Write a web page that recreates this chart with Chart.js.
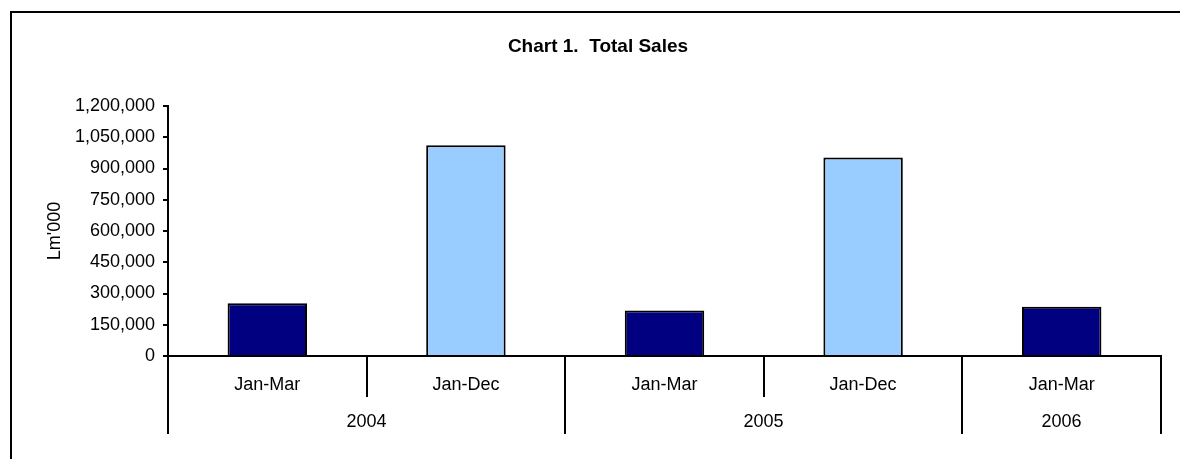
<!DOCTYPE html>
<html>
<head>
<meta charset="utf-8">
<script src="https://cdn.jsdelivr.net/npm/chart.js@4.4.1/dist/chart.umd.min.js"></script>
<style>
  html, body { margin: 0; padding: 0; background: #fff; overflow: hidden; }
  #wrap { position: relative; width: 1180px; height: 459px; overflow: hidden; }
  #frame { position: absolute; left: 10px; top: 11px; width: 1400px; height: 700px;
           border-left: 2px solid #000; border-top: 2px solid #000; }
  canvas { position: absolute; left: 0; top: 0; }
</style>
</head>
<body>
<div id="wrap">
  <div id="frame"></div>
  <canvas id="c" width="1180" height="459"></canvas>
</div>
<script>
// ---- data ----
const periods = ['Jan-Mar', 'Jan-Dec', 'Jan-Mar', 'Jan-Dec', 'Jan-Mar'];
const years   = ['2004', '2004', '2005', '2005', '2006'];
const sales   = [253000, 1012000, 218000, 953000, 237000];
const yTicks  = [0, 150000, 300000, 450000, 600000, 750000, 900000, 1050000, 1200000];
const titleText = 'Chart 1.  Total Sales';
const yTitle = "Lm'000";

// ---- styles ----
const periodColors = { 'Jan-Mar': '#000080', 'Jan-Dec': '#99CCFF' };
const FONT = '"Liberation Sans", Arial, sans-serif';

const groupLabels = {
  id: 'groupLabels',
  afterDraw(chart) {
    const { ctx, chartArea, scales: { x } } = chart;
    const n = periods.length;
    const bottom = chartArea.bottom;
    ctx.save();
    ctx.fillStyle = '#000';
    ctx.strokeStyle = '#000';
    ctx.lineWidth = 2;
    ctx.font = '18px ' + FONT;
    ctx.textAlign = 'center';
    ctx.textBaseline = 'middle';
    // period labels
    for (let i = 0; i < n; i++) {
      ctx.fillText(periods[i], x.getPixelForValue(i), bottom + 29);
    }
    // dividers
    const bounds = [];
    for (let i = 0; i <= n; i++) {
      const bx = Math.round(x.getPixelForValue(i - 0.5));
      const isGroup = i === 0 || i === n || years[i] !== years[i - 1];
      if (isGroup) bounds.push(bx);
      ctx.beginPath();
      ctx.moveTo(bx, bottom);
      ctx.lineTo(bx, bottom + (isGroup ? 78 : 41));
      ctx.stroke();
    }
    // year labels
    const groups = [];
    for (let i = 0; i < n; i++) {
      if (i === 0 || years[i] !== years[i - 1]) groups.push(years[i]);
    }
    for (let g = 0; g < groups.length; g++) {
      ctx.fillText(groups[g], (bounds[g] + bounds[g + 1]) / 2, bottom + 66);
    }
    ctx.restore();
  }
};

new Chart(document.getElementById('c'), {
  type: 'bar',
  data: {
    labels: periods.map((p, i) => p + ' ' + years[i]),
    datasets: [{
      data: sales,
      backgroundColor: periods.map(p => periodColors[p]),
      borderColor: '#000',
      borderWidth: 2,
      barPercentage: 0.4,
      categoryPercentage: 1.0
    }]
  },
  options: {
    responsive: false,
    animation: false,
    devicePixelRatio: 1,
    layout: { padding: { left: 35, right: 19, top: 0, bottom: 0 } },
    plugins: {
      legend: { display: false },
      tooltip: { enabled: false },
      title: {
        display: true,
        text: titleText,
        color: '#000',
        font: { family: FONT, size: 19, weight: 'bold' },
        padding: { top: 35, bottom: 48.2 }
      }
    },
    scales: {
      x: {
        grid: { display: false },
        ticks: { display: false },
        border: { display: true, color: '#000', width: 2 },
        afterFit(scale) { scale.height = 103; }
      },
      y: {
        min: 0,
        max: 1200000,
        afterBuildTicks(scale) { scale.ticks = yTicks.map(v => ({ value: v })); },
        ticks: {
          color: '#000',
          padding: 8,
          font: { family: FONT, size: 18 },
          callback: v => v.toLocaleString('en-US')
        },
        grid: { drawOnChartArea: false, drawTicks: true, tickLength: 5, color: '#000', lineWidth: 2 },
        border: { display: true, color: '#000', width: 2 },
        title: {
          display: true,
          text: yTitle,
          color: '#000',
          font: { family: FONT, size: 18 },
          padding: { top: 9, bottom: 0 }
        },
        afterFit(scale) { scale.width = 133; }
      }
    }
  },
  plugins: [groupLabels]
});
</script>
</body>
</html>
